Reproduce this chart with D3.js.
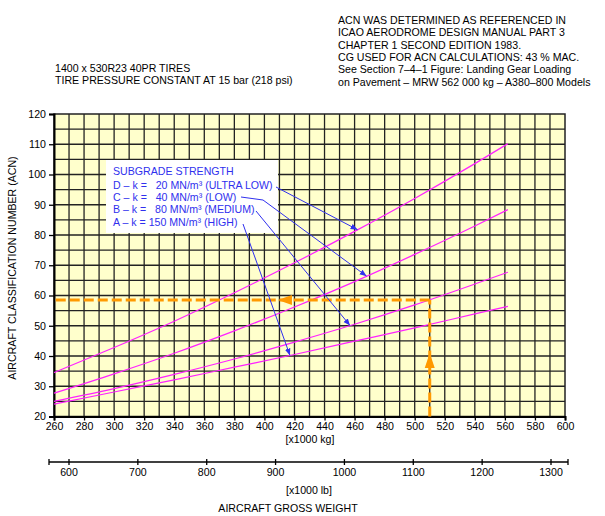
<!DOCTYPE html>
<html><head><meta charset="utf-8">
<script src="https://cdn.jsdelivr.net/npm/d3@7"></script>
<style>
html,body{margin:0;padding:0;background:#fff;}
text{font-family:"Liberation Sans",Arial,sans-serif;}
</style></head>
<body><svg id="c" width="605" height="516"></svg>
<script>
// ---- data ----
const weights = [260, 300, 340, 380, 420, 460, 500, 540, 562];
const acnD = [34.5, 42.8, 51.5, 60.9, 70.8, 81.2, 92.1, 103.6, 110.2];
const acnC = [27.7, 34.1, 40.9, 48.3, 56.2, 64.6, 73.6, 83.0, 88.4];
const acnB = [25.0, 29.2, 33.9, 39.0, 44.6, 50.5, 56.9, 63.8, 67.7];
const acnA = [24.1, 28.1, 32.1, 36.3, 40.5, 44.9, 49.3, 53.9, 56.4];
const legendLines = ["D \u2013 k =   20 MN/m\u00B3 (ULTRA LOW)", "C \u2013 k =   40 MN/m\u00B3 (LOW)", "B \u2013 k =   80 MN/m\u00B3 (MEDIUM)", "A \u2013 k = 150 MN/m\u00B3 (HIGH)"];
const leaderKg = [462, 468, 457, 417];
const kgTicks = d3.range(260, 601, 20);
const acnTicks = d3.range(20, 121, 10);
const lbTicks = d3.range(600, 1301, 100);
const exampleKg = 510, exampleAcn = 58.5;
const notesLeft = ["1400 x 530R23 40PR TIRES", "TIRE PRESSURE CONSTANT AT 15 bar (218 psi)"];
const notesRight = ["ACN WAS DETERMINED AS REFERENCED IN", "ICAO AERODROME DESIGN MANUAL PART 3", "CHAPTER 1 SECOND EDITION 1983.", "CG USED FOR ACN CALCULATIONS: 43 % MAC.", "See Section 7\u20134\u20131 Figure: Landing Gear Loading", "on Pavement \u2013 MRW 562 000 kg \u2013 A380\u2013800 Models"];

// ---- layout ----
const FS = 10.6;
const svg = d3.select("#c");
const L = 54, R = 565, T = 114, B = 416.5;
const x = d3.scaleLinear().domain([260, 600]).range([L, R]);
const y = d3.scaleLinear().domain([20, 120]).range([B, T]);
const xlb = d3.scaleLinear().domain([600, 1300]).range([69, 551]);

svg.append("rect").attr("x", L).attr("y", T).attr("width", R - L).attr("height", B - T).attr("fill", "#ffffcc");

// grid
const g = svg.append("g");
g.selectAll(".vg").data(d3.range(270, 600, 10)).join("line")
  .attr("x1", d => x(d)).attr("x2", d => x(d)).attr("y1", T).attr("y2", B)
  .attr("stroke", "#222").attr("stroke-width", 1.3);
g.selectAll(".hg").data(d3.range(25, 120, 5)).join("line")
  .attr("y1", d => y(d)).attr("y2", d => y(d)).attr("x1", L).attr("x2", R)
  .attr("stroke", "#222").attr("stroke-width", 1.3);
svg.append("rect").attr("x", L).attr("y", T).attr("width", R - L).attr("height", B - T)
  .attr("fill", "none").attr("stroke", "#222").attr("stroke-width", 1.5);

// axes
const ay = svg.append("g").attr("transform", `translate(${L},0)`)
  .call(d3.axisLeft(y).tickValues(acnTicks).tickSize(5).tickPadding(3));
const ax = svg.append("g").attr("transform", `translate(0,${B})`)
  .call(d3.axisBottom(x).tickValues(kgTicks).tickSize(4).tickPadding(2));
[ay, ax].forEach(a => {
  a.select(".domain").attr("stroke", "#000").attr("stroke-width", 2);
  a.selectAll(".tick line").attr("stroke", "#000").attr("stroke-width", 1.3);
  a.selectAll("text").attr("font-size", FS).attr("fill", "#000").attr("font-family", "Liberation Sans, Arial, sans-serif");
});

// lb axis
const lbY = 462;
svg.append("line").attr("x1", 49).attr("x2", 568).attr("y1", lbY).attr("y2", lbY).attr("stroke", "#000").attr("stroke-width", 1.3);
svg.selectAll(".lbt").data(lbTicks).join("line")
  .attr("x1", d => xlb(d)).attr("x2", d => xlb(d)).attr("y1", lbY - 3).attr("y2", lbY + 3)
  .attr("stroke", "#000").attr("stroke-width", 1.3);
svg.selectAll(".lbe").data([49, 568]).join("line")
  .attr("x1", d => d).attr("x2", d => d).attr("y1", lbY - 3).attr("y2", lbY + 3)
  .attr("stroke", "#000").attr("stroke-width", 1.3);
svg.selectAll(".lbl").data(lbTicks).join("text")
  .attr("x", d => xlb(d)).attr("y", lbY + 14).attr("text-anchor", "middle").attr("font-size", FS).text(d => d);

// axis titles
svg.append("text").attr("x", 310).attr("y", 443).attr("text-anchor", "middle").attr("font-size", FS).text("[x1000 kg]");
svg.append("text").attr("x", 309).attr("y", 494).attr("text-anchor", "middle").attr("font-size", FS).text("[x1000 lb]");
svg.append("text").attr("x", 288).attr("y", 512).attr("text-anchor", "middle").attr("font-size", FS).text("AIRCRAFT GROSS WEIGHT");
svg.append("text").attr("transform", "translate(16,268) rotate(-90)").attr("text-anchor", "middle").attr("font-size", FS).text("AIRCRAFT CLASSIFICATION NUMBER (ACN)");

// notes
svg.selectAll(".nl").data(notesLeft).join("text").attr("x", 55).attr("y", (d, i) => 72 + i * 12).attr("font-size", FS).text(d => d);
svg.selectAll(".nr").data(notesRight).join("text").attr("x", 338).attr("y", (d, i) => 24 + i * 12.3).attr("font-size", FS).text(d => d);

// curves
const series = [acnD, acnC, acnB, acnA];
const line = d3.line().x(d => x(d[0])).y(d => y(d[1])).curve(d3.curveMonotoneX);
series.forEach(s => {
  svg.append("path").attr("d", line(weights.map((w, i) => [w, s[i]])))
    .attr("fill", "none").attr("stroke", "#ff22ff").attr("stroke-width", 1.2);
});

// example reading (orange)
const orange = "#ff9900";
svg.append("line").attr("x1", x(exampleKg)).attr("x2", x(exampleKg)).attr("y1", B).attr("y2", y(exampleAcn))
  .attr("stroke", orange).attr("stroke-width", 3).attr("stroke-dasharray", "10,4");
svg.append("line").attr("x1", x(exampleKg)).attr("x2", L).attr("y1", y(exampleAcn)).attr("y2", y(exampleAcn))
  .attr("stroke", orange).attr("stroke-width", 3).attr("stroke-dasharray", "10,4");
const ux = x(exampleKg), uy = y(41);
svg.append("path").attr("d", `M${ux},${uy} L${ux - 5},${uy + 15} L${ux + 5},${uy + 15} Z`).attr("fill", orange);
const lx = x(409), ly = y(exampleAcn);
svg.append("path").attr("d", `M${lx},${ly} L${lx + 14},${ly - 5} L${lx + 14},${ly + 5} Z`).attr("fill", orange);

// legend
const blue = "#3030ee";
svg.append("rect").attr("x", 106).attr("y", 160).attr("width", 172).attr("height", 73).attr("fill", "#fff");
svg.append("text").attr("x", 113).attr("y", 175).attr("font-size", FS).attr("fill", blue).text("SUBGRADE STRENGTH");
svg.selectAll(".lg").data(legendLines).join("text").attr("x", 113).attr("y", (d, i) => 189 + i * 12.2)
  .attr("font-size", FS).attr("fill", blue).style("white-space", "pre").text(d => d);

function interp(s, kg) {
  const i = d3.bisectRight(weights, kg) - 1;
  const t = (kg - weights[i]) / (weights[i + 1] - weights[i]);
  return s[i] + t * (s[i + 1] - s[i]);
}
svg.append("defs").append("marker").attr("id", "ah").attr("viewBox", "0 0 10 10").attr("refX", 10).attr("refY", 5)
  .attr("markerWidth", 7).attr("markerHeight", 7).attr("orient", "auto")
  .append("path").attr("d", "M0,1 L10,5 L0,9 Z").attr("fill", blue);
const starts = [[[276, 187]], [[241, 197], [263, 200]], [[256, 211]], [[243, 224]]];
series.forEach((s, i) => {
  const pts = starts[i].concat([[x(leaderKg[i]), y(interp(s, leaderKg[i]))]]);
  svg.append("path").attr("d", d3.line()(pts)).attr("fill", "none").attr("stroke", blue).attr("stroke-width", 1)
    .attr("marker-end", "url(#ah)");
});
</script></body></html>
